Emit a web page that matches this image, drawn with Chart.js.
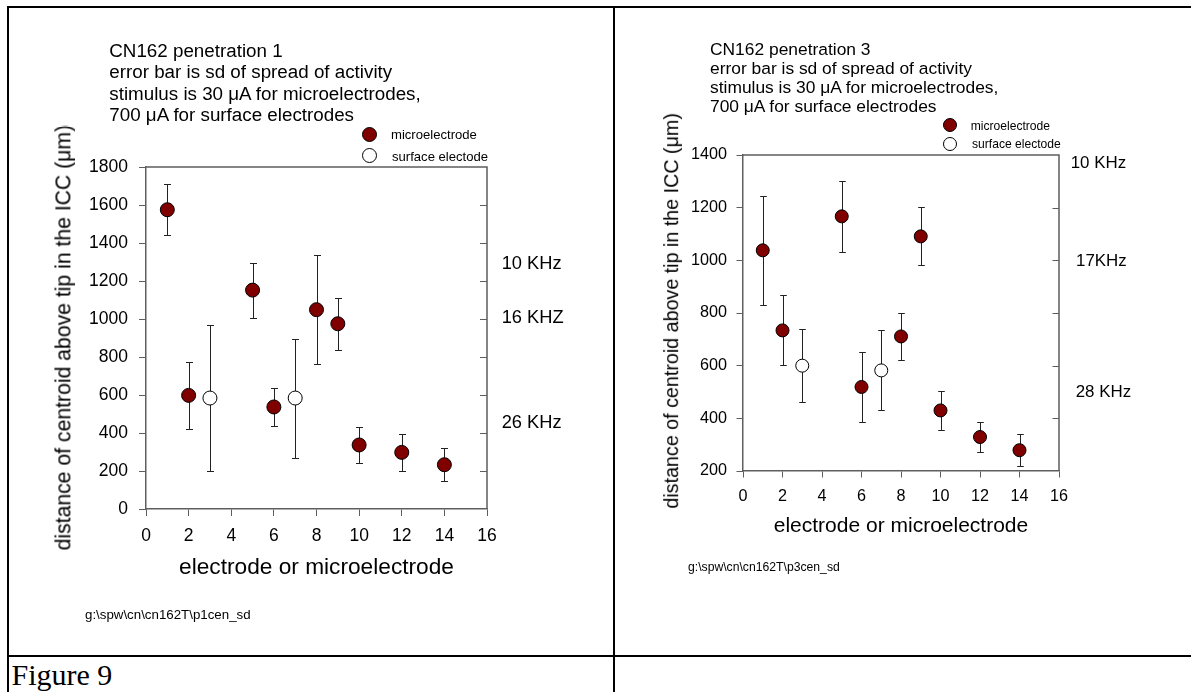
<!DOCTYPE html>
<html>
<head>
<meta charset="utf-8">
<title>Figure 9</title>
<script src="https://cdn.jsdelivr.net/npm/chart.js@4.4.1/dist/chart.umd.min.js"></script>
<style>
  html, body { margin: 0; padding: 0; background: #fff; }
  #page { position: relative; width: 1191px; height: 692px; overflow: hidden;
          font-family: Arial, 'Liberation Sans', sans-serif; color: #000; }
  #page canvas { position: absolute; top: 0; }
  .rule { position: absolute; background: #000; }
  .txt  { position: absolute; white-space: nowrap; line-height: 1; }
  .dot  { position: absolute; border: 1px solid #000; border-radius: 50%; box-sizing: border-box; }
</style>
</head>
<body>
<div id="page">
  <canvas id="chartP1" width="612" height="654" style="left:0"></canvas>
  <canvas id="chartP3" width="575" height="654" style="left:616px"></canvas>

  <!-- table rules -->
  <div class="rule" style="left:7px;top:6px;width:1184px;height:2px"></div>
  <div class="rule" style="left:7px;top:6px;width:2px;height:686px"></div>
  <div class="rule" style="left:613px;top:6px;width:2px;height:686px"></div>
  <div class="rule" style="left:7px;top:655px;width:1184px;height:2px"></div>
</div>

<script>
'use strict';

// ── Data ────────────────────────────────────────────────────────────────────
const ELECTRODES_MICRO   = [1, 2, 5, 6, 8, 9, 10, 12, 14];
const ELECTRODES_SURFACE = [3, 7];

// penetration 1: centroid height (µm) and sd of spread
const P1_MICRO      = [1575, 598, 1152, 537, 1049, 975, 337, 298, 233];
const P1_MICRO_SD   = [133, 178, 145, 98, 288, 137, 93, 97, 86];
const P1_SURFACE    = [584, 584];
const P1_SURFACE_SD = [383, 313];

// penetration 3
const P3_MICRO      = [1038, 734, 1167, 519, 711, 1091, 430, 329, 279];
const P3_MICRO_SD   = [207, 133, 134, 134, 88, 110, 74, 58, 60];
const P3_SURFACE    = [600, 582];
const P3_SURFACE_SD = [138, 152];

const X_RANGE    = [0, 16];
const X_STEP     = 2;
const P1_Y_RANGE = [0, 1800];
const P3_Y_RANGE = [200, 1400];
const Y_STEP     = 200;

const P1_NOTES = ['CN162 penetration 1', 'error bar is sd of spread of activity',
                  'stimulus is 30 μA for microelectrodes,', '700 μA for surface electrodes'];
const P3_NOTES = ['CN162 penetration 3', 'error bar is sd of spread of activity',
                  'stimulus is 30 μA for microelectrodes,', '700 μA for surface electrodes'];
const P1_FREQ  = ['10 KHz', '16 KHZ', '26 KHz'];
const P3_FREQ  = ['10 KHz', '17KHz', '28 KHz'];
const LEGEND   = ['microelectrode', 'surface electode'];
const X_TITLE  = 'electrode or microelectrode';
const Y_TITLE  = 'distance of centroid above tip in the ICC (μm)';

// ── Styles ──────────────────────────────────────────────────────────────────
const FONT   = "Arial, 'Liberation Sans', sans-serif";
const AXIS   = '#5e5e5e';
const MAROON = '#800000';

// ── Plugins ─────────────────────────────────────────────────────────────────
const errorBars = {
  id: 'errorBars',
  beforeDatasetsDraw(chart, args, opts) {
    const { ctx, scales: { x, y } } = chart;
    ctx.save();
    ctx.strokeStyle = '#222';
    ctx.lineWidth = 1;
    chart.data.datasets.forEach(ds => {
      ds.data.forEach((p, i) => {
        const sd  = ds.sd[i];
        const px  = Math.round(x.getPixelForValue(p.x)) + 0.5;
        const top = Math.round(y.getPixelForValue(p.y + sd)) + 0.5;
        const bot = Math.round(y.getPixelForValue(p.y - sd)) + 0.5;
        ctx.beginPath();
        ctx.moveTo(px, top); ctx.lineTo(px, bot);
        ctx.moveTo(px - opts.cap, top); ctx.lineTo(px + opts.cap, top);
        ctx.moveTo(px - opts.cap, bot); ctx.lineTo(px + opts.cap, bot);
        ctx.stroke();
      });
    });
    ctx.restore();
  },
};

// top/right edges of the box plus inward ticks on the right side
const boxFrame = {
  id: 'boxFrame',
  afterDraw(chart, args, opts) {
    const { ctx, chartArea: a, scales: { y } } = chart;
    ctx.save();
    ctx.strokeStyle = AXIS;
    ctx.lineWidth = 1.5;
    ctx.beginPath();
    ctx.moveTo(a.left, a.top);
    ctx.lineTo(a.right, a.top);
    ctx.lineTo(a.right, a.bottom);
    ctx.stroke();
    ctx.lineWidth = 1;
    ctx.beginPath();
    y.ticks.forEach(t => {
      const py = Math.round(y.getPixelForValue(t.value)) + 0.5;
      if (py <= a.top + 1 || py >= a.bottom - 1) return;
      ctx.moveTo(a.right - opts.tick, py);
      ctx.lineTo(a.right, py);
    });
    ctx.stroke();
    ctx.restore();
  },
};

// ── Chart builder ───────────────────────────────────────────────────────────
const toPoints = (xs, ys) => xs.map((x, i) => ({ x, y: ys[i] }));

const makeChart = (id, cfg) => {
  const ctx = document.getElementById(id).getContext('2d');
  return new Chart(ctx, {
    type: 'scatter',
    data: {
      datasets: [
        {
          label: LEGEND[0],
          data: toPoints(ELECTRODES_MICRO, cfg.micro),
          sd: cfg.microSd,
          pointRadius: cfg.radius,
          pointBackgroundColor: MAROON,
          pointBorderColor: '#000',
          pointBorderWidth: 1,
        },
        {
          label: LEGEND[1],
          data: toPoints(ELECTRODES_SURFACE, cfg.surface),
          sd: cfg.surfaceSd,
          pointRadius: cfg.radius,
          pointBackgroundColor: '#fff',
          pointBorderColor: '#000',
          pointBorderWidth: 1,
        },
      ],
    },
    options: {
      responsive: false,
      animation: false,
      events: [],
      layout: { padding: cfg.padding },
      plugins: {
        legend: { display: false },
        tooltip: { enabled: false },
        errorBars: { cap: cfg.cap },
        boxFrame: { tick: cfg.tick },
      },
      scales: {
        x: {
          type: 'linear',
          min: X_RANGE[0],
          max: X_RANGE[1],
          afterFit: s => { s.height = 50; },
          grid: { drawOnChartArea: false, drawTicks: true, tickLength: cfg.tick, color: AXIS, lineWidth: 1 },
          border: { display: true, color: AXIS, width: 1.5 },
          ticks: {
            stepSize: X_STEP, autoSkip: false, maxRotation: 0, padding: cfg.xPad,
            color: '#000', font: { family: FONT, size: cfg.tickFont },
            callback: v => String(v),
          },
        },
        y: {
          type: 'linear',
          min: cfg.yRange[0],
          max: cfg.yRange[1],
          afterFit: s => { s.width = 60; },
          grid: { drawOnChartArea: false, drawTicks: true, tickLength: cfg.tick, color: AXIS, lineWidth: 1 },
          border: { display: true, color: AXIS, width: 1.5 },
          ticks: {
            stepSize: Y_STEP, autoSkip: false, padding: cfg.yPad,
            color: '#000', font: { family: FONT, size: cfg.tickFont },
            callback: v => String(v),
          },
        },
      },
    },
    plugins: [errorBars, boxFrame],
  });
};

makeChart('chartP1', {
  micro: P1_MICRO, microSd: P1_MICRO_SD, surface: P1_SURFACE, surfaceSd: P1_SURFACE_SD,
  yRange: P1_Y_RANGE, radius: 7, cap: 3.5, tick: 7, tickFont: 17.5, xPad: 10, yPad: 11,
  padding: { left: 86, right: 125, top: 167, bottom: 95 },
});

makeChart('chartP3', {
  micro: P3_MICRO, microSd: P3_MICRO_SD, surface: P3_SURFACE, surfaceSd: P3_SURFACE_SD,
  yRange: P3_Y_RANGE, radius: 6.5, cap: 3.3, tick: 6.5, tickFont: 16.2, xPad: 9.5, yPad: 9.5,
  padding: { left: 67, right: 132, top: 155, bottom: 133 },
});

// ── Text (notes, legends, titles) ───────────────────────────────────────────
const page = document.getElementById('page');

// place a single line by its baseline (line-height 1, Arial metrics)
const addText = (str, x, baseline, size, extra = {}) => {
  const el = document.createElement('div');
  el.className = 'txt';
  el.textContent = str;
  el.style.fontSize = size + 'px';
  el.style.top = (baseline - 0.8465 * size) + 'px';
  if (extra.center) {
    el.style.left = (x - 300) + 'px';
    el.style.width = '600px';
    el.style.textAlign = 'center';
  } else {
    el.style.left = x + 'px';
  }
  if (extra.family) el.style.fontFamily = extra.family;
  page.appendChild(el);
  return el;
};

// rotated axis title centred on (cx, cy)
const addVertical = (str, cx, cy, size) => {
  const el = document.createElement('div');
  el.className = 'txt';
  el.textContent = str;
  el.style.fontSize = size + 'px';
  el.style.width = '600px';
  el.style.height = size + 'px';
  el.style.textAlign = 'center';
  el.style.left = (cx - 300) + 'px';
  el.style.top = (cy - size / 2) + 'px';
  el.style.transform = 'rotate(-90deg)';
  page.appendChild(el);
};

const addDot = (cx, cy, d, fill) => {
  const el = document.createElement('div');
  el.className = 'dot';
  el.style.width = el.style.height = d + 'px';
  el.style.left = (cx - d / 2) + 'px';
  el.style.top = (cy - d / 2) + 'px';
  el.style.background = fill;
  page.appendChild(el);
};

// penetration 1
P1_NOTES.forEach((t, i) => addText(t, 109.3, 58.3 + i * 21.1, 18.8));
addDot(369, 134.3, 15, MAROON);
addDot(369, 155.7, 15, '#fff');
addText(LEGEND[0], 391, 139.3, 13.1);
addText(LEGEND[1], 392, 160.6, 13.1);
[269.5, 323.2, 428.2].forEach((b, i) => addText(P1_FREQ[i], 501.7, b, 18.3));
addText(X_TITLE, 316.5, 574, 22.7, { center: true });
addVertical(Y_TITLE, 63.2, 337.5, 21.2);
addText('g:\\spw\\cn\\cn162T\\p1cen_sd', 85, 619, 13.3);

// penetration 3
P3_NOTES.forEach((t, i) => addText(t, 710, 56 + i * 18.9, 17.4));
addDot(950, 125, 14, MAROON);
addDot(950, 144, 14, '#fff');
addText(LEGEND[0], 970.7, 129.8, 12.1);
addText(LEGEND[1], 972, 148.5, 12.1);
addText(P3_FREQ[0], 1070.7, 169.4, 16.9);
addText(P3_FREQ[1], 1076, 267.8, 16.9);
addText(P3_FREQ[2], 1075.7, 398.4, 16.9);
addText(X_TITLE, 901, 531.7, 21, { center: true });
addVertical(Y_TITLE, 671.6, 311, 19.7);
addText('g:\\spw\\cn\\cn162T\\p3cen_sd', 688, 571.7, 12.2);

// caption
addText('Figure 9', 11.5, 685, 30, { family: "'Times New Roman', 'Liberation Serif', serif" });
</script>
</body>
</html>
